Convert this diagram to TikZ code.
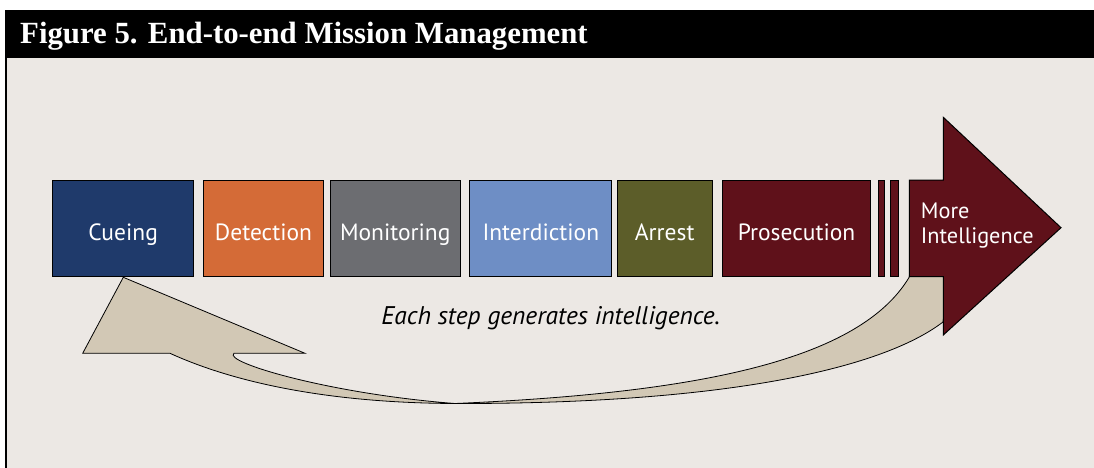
\documentclass[tikz,border=0pt]{standalone}
\usepackage{fontspec}
\setmainfont{PT Sans}
\newfontfamily\titlefont{Liberation Serif}
\usetikzlibrary{positioning}
\definecolor{paper}{HTML}{ECE8E4}
\definecolor{cuecol}{HTML}{1F3A6B}
\definecolor{detcol}{HTML}{D46B37}
\definecolor{moncol}{HTML}{6C6D71}
\definecolor{intcol}{HTML}{6E8EC5}
\definecolor{arrcol}{HTML}{5C5D29}
\definecolor{procol}{HTML}{5F111A}
\definecolor{loopcol}{HTML}{D2C8B5}

\begin{document}
\begin{tikzpicture}[x=1pt,y=-1pt]
\tikzstyle{sb} = [rectangle, draw=black, line width=1pt, minimum height=95.5pt, inner sep=0pt, text=white, font=\fontsize{23.5}{28}\selectfont, text height=24.8pt, text depth=0pt]
\tikzstyle{bar} = [rectangle, draw=black, line width=1pt, minimum height=95.5pt, inner sep=0pt, fill=procol]
\useasboundingbox (0,0) rectangle (1094,468);
\fill[paper] (7,57.7) rectangle (1094,468);
\fill[black] (5,10) rectangle (1094,57.7);
\fill[black] (5,57.7) rectangle (7.3,468);
\node (Title) [anchor=base west, inner sep=0pt, text=white, font=\titlefont\bfseries\fontsize{30.8}{34}\selectfont] at (20,43.3) {Figure 5. End-to-end Mission Management};
\filldraw[fill=loopcol, draw=black, line width=0.8pt] (123.3,277.3) -- (305,353.3) -- (234,353.3) .. controls (222,362) and (330,394) .. (455,403.5) .. controls (720,404) and (880,370) .. (943,322) -- (950,265) -- (910,265) -- (909.3,277) .. controls (860,360) and (700,393) .. (455,403.5) .. controls (330,403) and (235,383) .. (170,353.3) -- (82.7,353.3) -- cycle;
\filldraw[fill=procol, draw=black, line width=1pt] (909.3,180) -- (943.3,180) -- (943.3,117.3) -- (1061,227.7) -- (943.3,335) -- (943.3,276.7) -- (909.3,276.7) -- cycle;
\node (Cue) [sb, fill=cuecol, minimum width=140.7pt, anchor=west] at (52.3,228.3) {Cueing};
\node (Det) [sb, fill=detcol, minimum width=119.4pt, right=9.3pt of Cue] {Detection};
\node (Mon) [sb, fill=moncol, minimum width=130pt, right=6pt of Det] {Monitoring};
\node (Int) [sb, fill=intcol, minimum width=142pt, right=8.6pt of Mon] {Interdiction};
\node (Arr) [sb, fill=arrcol, minimum width=95pt, right=4.4pt of Int] {Arrest};
\node (Pro) [sb, fill=procol, minimum width=148pt, right=9.3pt of Arr] {Prosecution};
\node (BarA) [bar, minimum width=6.6pt, right=6.7pt of Pro] {};
\node (BarB) [bar, minimum width=8pt, right=5pt of BarA] {};
\node (More) [anchor=base west, inner sep=0pt, align=left, text=white, font=\fontsize{22.3}{25.3}\selectfont] at (920.7,243.3) {More\\Intelligence};
\node (Note) [anchor=base, inner sep=0pt, font=\itshape\fontsize{25.5}{30}\selectfont] at (550.7,324) {Each step generates intelligence.};
\end{tikzpicture}
\end{document}
